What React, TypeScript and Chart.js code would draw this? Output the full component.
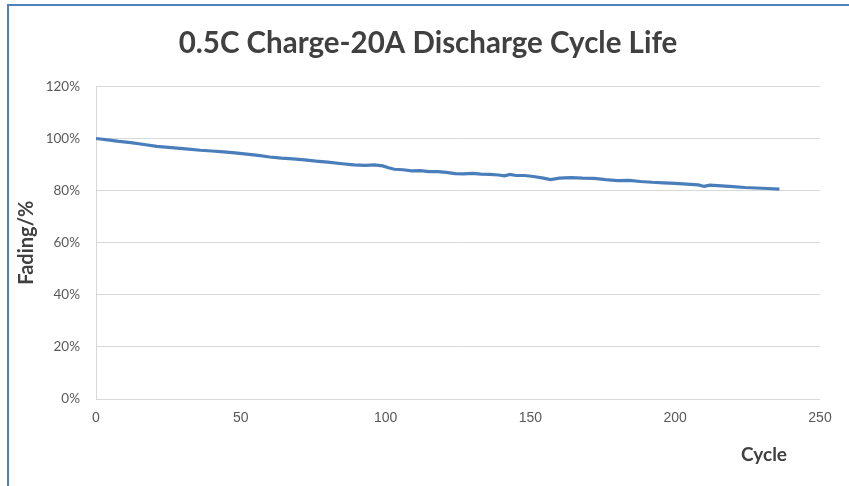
import React, { useEffect, useRef } from "react";
import { Chart, registerables } from "chart.js";

Chart.register(...registerables);

const titleText = "0.5C Charge-20A Discharge Cycle Life";
const yAxisTitle = "Fading/%";
const xAxisTitle = "Cycle";

const cycles = [
  0, 4, 8, 12, 16, 21, 26, 31, 36, 40, 44, 48, 52, 56, 60, 64, 68, 72, 76, 80,
  85, 89, 93, 96, 99, 101, 103, 106, 109, 112, 115, 118, 121, 124, 127, 130,
  133, 136, 139, 141, 143, 145, 148, 151, 154, 157, 160, 164, 168, 172, 176,
  180, 184, 188, 192, 196, 200, 204, 208, 210, 212, 216, 220, 224, 228, 232, 236,
];

const fading = [
  100.0, 99.5, 98.9, 98.4, 97.8, 97.0, 96.5, 96.0, 95.5, 95.2, 94.9, 94.5, 94.0,
  93.5, 92.9, 92.5, 92.2, 91.8, 91.3, 90.9, 90.3, 89.9, 89.7, 89.9, 89.5, 88.8,
  88.2, 88.0, 87.6, 87.7, 87.3, 87.3, 87.0, 86.5, 86.4, 86.6, 86.3, 86.2, 86.0,
  85.7, 86.2, 85.8, 85.8, 85.4, 84.9, 84.2, 84.8, 85.0, 84.8, 84.7, 84.2, 83.8,
  83.9, 83.5, 83.2, 83.0, 82.8, 82.5, 82.2, 81.6, 82.1, 81.8, 81.5, 81.2, 81.0,
  80.8, 80.6,
];

const xTicks = [0, 50, 100, 150, 200, 250];
const yTicks = [0, 20, 40, 60, 80, 100, 120];

export default function App() {
  const canvasRef = useRef<HTMLCanvasElement | null>(null);

  useEffect(() => {
    const canvas = canvasRef.current;
    if (!canvas) return;

    const xTitlePlugin = {
      id: "xTitlePlugin",
      afterDraw(chart: any) {
        const { ctx, chartArea } = chart;
        ctx.save();
        ctx.font = "bold 19px Lato";
        ctx.fillStyle = "#404040";
        ctx.textAlign = "center";
        ctx.textBaseline = "middle";
        ctx.fillText(xAxisTitle, chartArea.right - 56, chartArea.bottom + 56);
        ctx.restore();
      },
    };

    const chart = new Chart(canvas, {
      type: "line",
      data: {
        datasets: [
          {
            data: cycles.map((c, i) => ({ x: c, y: fading[i] })),
            borderColor: "#4a7ebb",
            borderWidth: 3.2,
            pointRadius: 0,
            tension: 0,
            fill: false,
          },
        ],
      },
      options: {
        responsive: false,
        animation: false,
        layout: { padding: { left: 8, right: 1, top: 0, bottom: 0 } },
        plugins: {
          legend: { display: false },
          tooltip: { enabled: false },
          title: {
            display: true,
            text: titleText,
            color: "#404040",
            font: { family: "Lato", size: 29.5, weight: "bold" },
            padding: { top: 25.5, bottom: 25.5 },
          },
        },
        scales: {
          x: {
            type: "linear",
            min: xTicks[0],
            max: xTicks[xTicks.length - 1],
            afterFit(scale: any) {
              scale.height = 87;
            },
            afterBuildTicks(scale: any) {
              scale.ticks = xTicks.map((v) => ({ value: v }));
            },
            grid: { display: false, drawTicks: false },
            border: { display: false },
            ticks: {
              padding: 11,
              color: "#595959",
              font: { family: "Liberation Sans", size: 14 },
              maxRotation: 0,
            },
          },
          y: {
            min: yTicks[0],
            max: yTicks[yTicks.length - 1],
            afterFit(scale: any) {
              scale.width = 88;
            },
            afterBuildTicks(scale: any) {
              scale.ticks = yTicks.map((v) => ({ value: v }));
            },
            grid: { color: "#d9d9d9", lineWidth: 1, drawTicks: false },
            border: { display: true, color: "#d9d9d9", width: 1 },
            ticks: {
              padding: 16,
              color: "#595959",
              font: { family: "Lato", size: 13.5 },
              callback: (v: any) => `${v}%`,
            },
            title: {
              display: true,
              text: yAxisTitle,
              color: "#404040",
              font: { family: "Lato", size: 20, weight: "bold" },
              padding: { top: 7, bottom: 0 },
            },
          },
          yRight: {
            position: "right",
            min: yTicks[0],
            max: yTicks[yTicks.length - 1],
            afterFit(scale: any) {
              scale.width = 28;
            },
            grid: { display: false, drawTicks: false },
            border: { display: false },
            ticks: { display: false },
          },
        },
      },
      plugins: [xTitlePlugin],
    });

    return () => chart.destroy();
  }, []);

  return (
    <div
      style={{
        position: "absolute",
        left: 0,
        top: 0,
        width: 849,
        height: 486,
        background: "#ffffff",
        overflow: "hidden",
      }}
    >
      <div
        style={{
          position: "absolute",
          left: 7,
          top: 4,
          width: 840,
          height: 480,
          borderTop: "2px solid #4f81bd",
          borderLeft: "2px solid #4f81bd",
        }}
      />
      <canvas
        ref={canvasRef}
        width={849}
        height={486}
        style={{ position: "absolute", left: 0, top: 0 }}
      />
    </div>
  );
}
